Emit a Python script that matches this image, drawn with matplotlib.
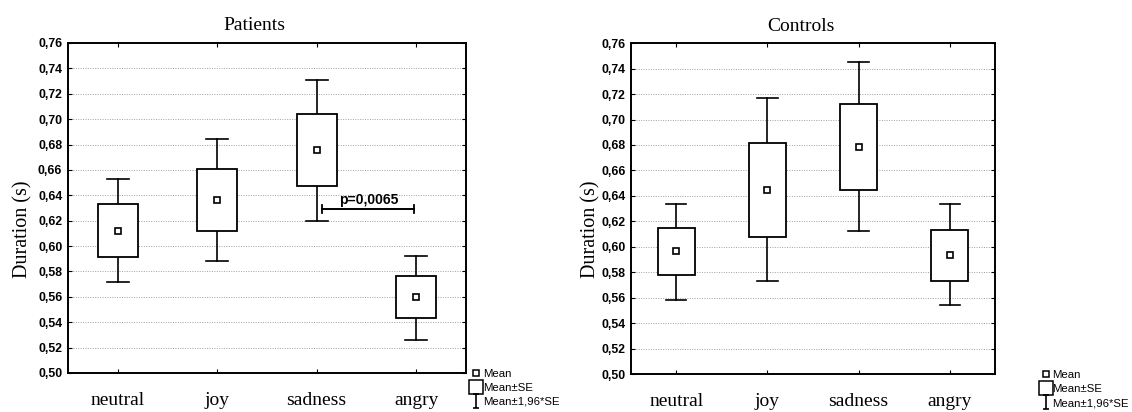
import numpy as np
import matplotlib
matplotlib.use("Agg")
import matplotlib.pyplot as plt
from matplotlib.lines import Line2D
from matplotlib.path import Path
from matplotlib.ticker import FuncFormatter, MultipleLocator

# ----------------------------------------------------------------------
# data
# ----------------------------------------------------------------------

categories = ["neutral", "joy", "sadness", "angry"]

pat_mean = [0.612, 0.6365, 0.676, 0.560]
pat_se_hi = [0.633, 0.6605, 0.704, 0.5765]
pat_se_lo = [0.5915, 0.612, 0.6475, 0.543]
pat_ci_hi = [0.653, 0.684, 0.731, 0.592]
pat_ci_lo = [0.5715, 0.5885, 0.6195, 0.526]

con_mean = [0.597, 0.645, 0.6785, 0.5935]
con_se_hi = [0.615, 0.6815, 0.712, 0.6135]
con_se_lo = [0.5775, 0.608, 0.6445, 0.573]
con_ci_hi = [0.6335, 0.717, 0.745, 0.6335]
con_ci_lo = [0.5585, 0.573, 0.612, 0.554]

p_text = "p=0,0065"
p_level = 0.629

SERIF = "Liberation Serif"
SANS = "Liberation Sans"

# whisker glyph for the legend
WHISKER = Path([(-0.5, -1), (0.5, -1), (0, -1), (0, 1), (-0.5, 1), (0.5, 1)],
               [Path.MOVETO, Path.LINETO, Path.MOVETO, Path.LINETO,
                Path.MOVETO, Path.LINETO])


def comma(v, pos):
    return ("%.2f" % v).replace(".", ",")


def draw(ax, title, mean, se_lo, se_hi, ci_lo, ci_hi, leg_x, lab_x):
    x = np.arange(len(categories))
    w = 0.4
    cap = 0.11
    for xi, m, sl, sh, cl, ch in zip(x, mean, se_lo, se_hi, ci_lo, ci_hi):
        # whiskers
        ax.plot([xi, xi], [sh, ch], color="k", lw=1.2, zorder=3)
        ax.plot([xi, xi], [cl, sl], color="k", lw=1.2, zorder=3)
        ax.plot([xi - cap, xi + cap], [ch, ch], color="k", lw=1.2, zorder=3)
        ax.plot([xi - cap, xi + cap], [cl, cl], color="k", lw=1.2, zorder=3)
        # SE box
        ax.add_patch(plt.Rectangle((xi - w / 2, sl), w, sh - sl, fc="white",
                                   ec="k", lw=1.3, zorder=3))
    ax.plot(x, mean, ls="none", marker="s", ms=5, mfc="white", mec="k",
            mew=1.2, zorder=4)

    ax.set_xlim(-0.5, 3.5)
    ax.set_ylim(0.50, 0.76)
    ax.yaxis.set_major_locator(MultipleLocator(0.02))
    ax.yaxis.set_major_formatter(FuncFormatter(comma))
    ax.set_xticks(x)
    ax.set_xticklabels(categories, family=SERIF, fontsize=14)
    for lab in ax.get_yticklabels():
        lab.set_family(SANS)
        lab.set_fontsize(8.8)
        lab.set_fontweight("bold")
    ax.tick_params(axis="x", direction="in", length=3, top=True, pad=14)
    ax.tick_params(axis="y", direction="in", length=3, right=True, pad=4)
    ax.grid(axis="y", ls=(0, (1, 1.5)), color="#a0a0a0", lw=0.7)
    ax.set_axisbelow(True)
    for s in ax.spines.values():
        s.set_linewidth(1.4)
    ax.set_title(title, family=SERIF, fontsize=14, x=0.468, pad=9)
    ax.set_ylabel("Duration (s)", family=SERIF, fontsize=14.5)
    ax.yaxis.set_label_coords(lab_x, 0.437)

    handles = [
        Line2D([], [], ls="none", marker="s", ms=4, mfc="white", mec="k", mew=1.1),
        Line2D([], [], ls="none", marker="s", ms=10, mfc="white", mec="k", mew=1.1),
        Line2D([], [], ls="none", marker=WHISKER, ms=10, mfc="none", mec="k",
               mew=1.2),
    ]
    ax.legend(handles, ["Mean", "Mean\u00b1SE", "Mean\u00b11,96*SE"],
              loc="lower left", bbox_to_anchor=(leg_x, -0.103), frameon=False,
              prop={"family": SANS, "size": 8.2}, handlelength=0.9,
              handletextpad=0.15, labelspacing=0.35, borderaxespad=0,
              borderpad=0.0)


fig = plt.figure(figsize=(11.32, 4.12), dpi=100)
ax1 = fig.add_axes([0.060, 0.0947, 0.3516, 0.801])
ax2 = fig.add_axes([0.5574, 0.0922, 0.3216, 0.803])

draw(ax1, "Patients", pat_mean, pat_se_lo, pat_se_hi, pat_ci_lo, pat_ci_hi,
     1.012, -0.09)
draw(ax2, "Controls", con_mean, con_se_lo, con_se_hi, con_ci_lo, con_ci_hi,
     1.125, -0.085)

# significance bracket sadness vs angry
ax1.plot([2.05, 2.98], [p_level, p_level], color="k", lw=1.4, zorder=3)
ax1.plot([2.05, 2.05], [p_level - 0.003, p_level + 0.003], color="k", lw=1.3)
ax1.plot([2.98, 2.98], [p_level - 0.003, p_level + 0.003], color="k", lw=1.3)
ax1.text(2.52, p_level + 0.002, p_text, ha="center", va="bottom",
         family=SANS, fontsize=10, fontweight="bold")

fig.savefig("out.png", dpi=100)
